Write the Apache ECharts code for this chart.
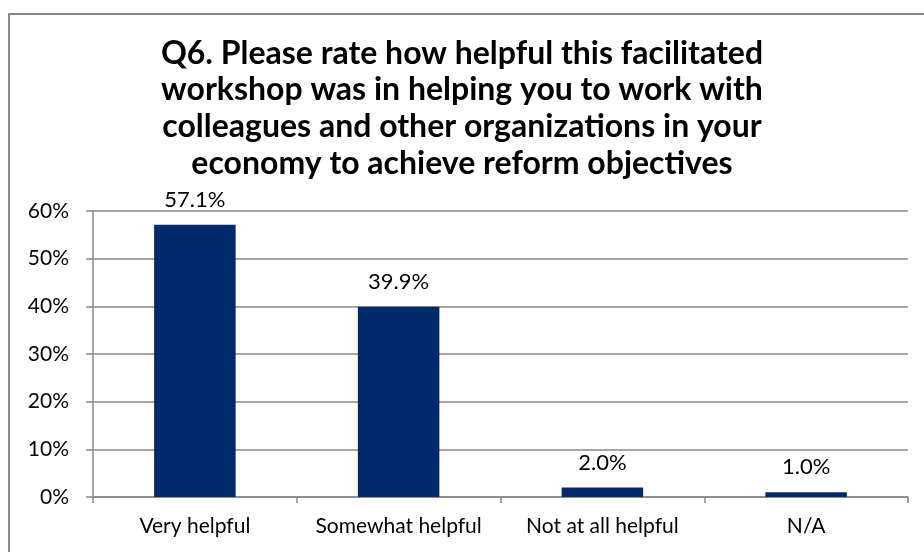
<!DOCTYPE html>
<html><head><meta charset="utf-8">
<script src="https://cdn.jsdelivr.net/npm/echarts@6/dist/echarts.min.js"></script>
<style>html,body{margin:0;padding:0;background:#fff}#c{width:924px;height:552px}</style>
</head><body><div id="c"></div>
<script>
const categories = ["Very helpful", "Somewhat helpful", "Not at all helpful", "N/A"];
const values = [57.1, 39.9, 2.0, 1.0];
const titleText = "Q6. Please rate how helpful this facilitated\nworkshop was in helping you to work with\ncolleagues and other organizations in your\neconomy to achieve reform objectives";
const FONT = "Lato";
const chart = echarts.init(document.getElementById('c'));
chart.setOption({
  animation: false,
  backgroundColor: '#fff',
  graphic: [{type:'rect', shape:{x:9, y:14, width:1000, height:1000}, style:{fill:'none', stroke:'#888', lineWidth:2}, z:-1}],
  title: {text: titleText, left: 'center', top: 30,
    textStyle:{fontFamily: FONT, fontWeight:'bold', fontSize: 32, lineHeight: 36.7, color:'#000'}},
  grid: {left: 93, right: 16, top: 211, bottom: 55},
  xAxis: {type:'category', data: categories,
    axisLine:{lineStyle:{color:'#888', width:1.5}},
    axisTick:{show:true, length:6, lineStyle:{color:'#888', width:1.5}},
    axisLabel:{interval: 0, fontFamily: FONT, fontSize: 21, color:'#000', margin: 19}},
  yAxis: {type:'value', min:0, max:60, interval:10,
    axisLine:{show:true, lineStyle:{color:'#888', width:1.5}},
    axisTick:{show:true, inside:false, length:7, lineStyle:{color:'#888', width:1.5}},
    splitLine:{lineStyle:{color:'#888', width:1.5}},
    axisLabel:{formatter:'{value}%', fontFamily: FONT, fontSize: 21, color:'#000', margin: 24}},
  series: [{type:'bar', data: values, barWidth: '40%', itemStyle:{color:'#002A6C'},
    label:{show:true, position:'top', distance: 14, formatter: p => p.value.toFixed(1) + '%',
      fontFamily: FONT, fontSize: 22, color:'#000'}}]
});
</script></body></html>
